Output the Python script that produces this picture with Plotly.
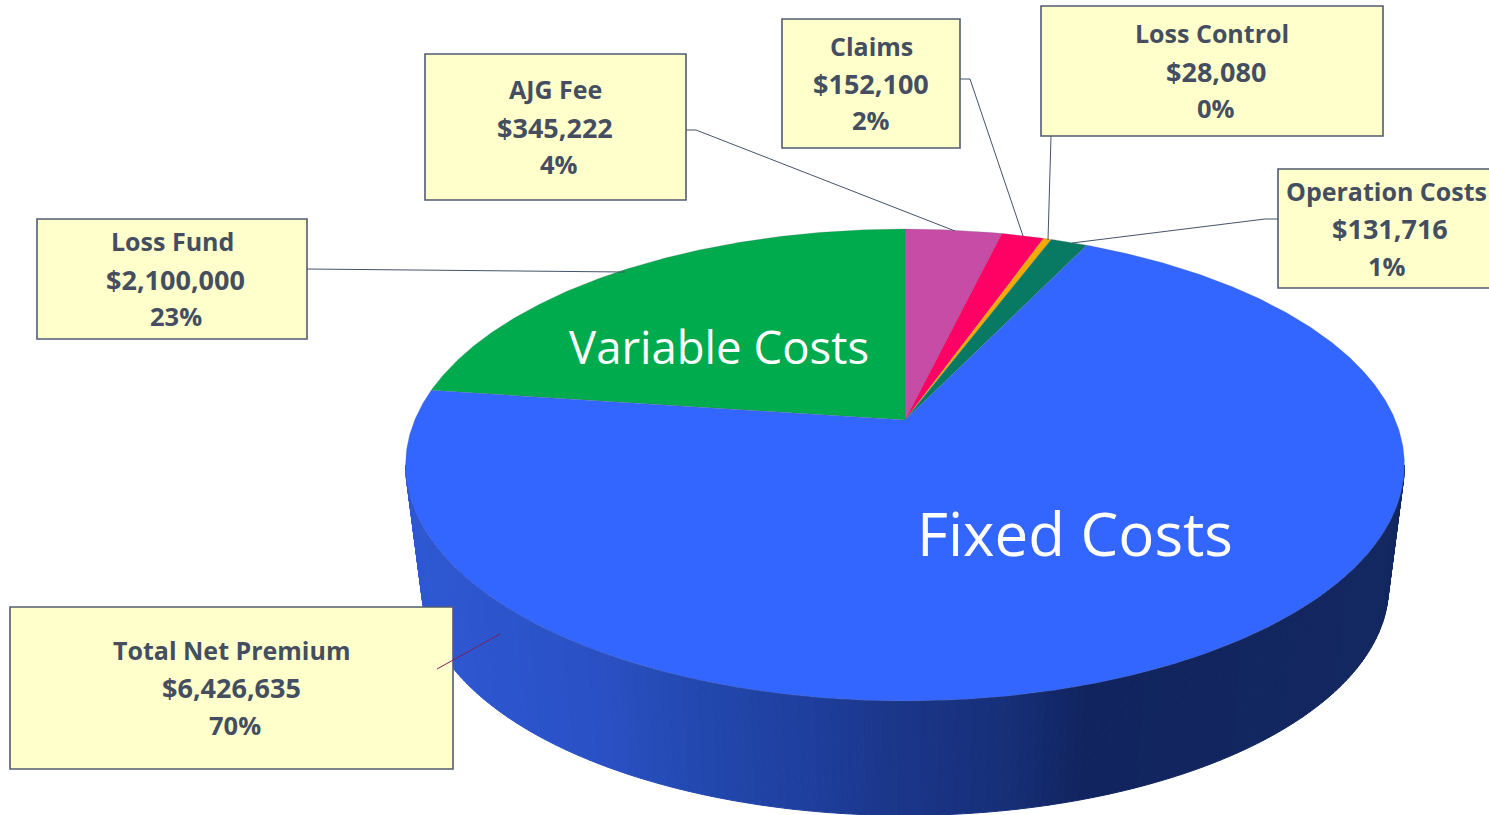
import numpy as np
import plotly.graph_objects as go

# ---- data ----
categories = ["Loss Fund", "AJG Fee", "Claims", "Loss Control", "Operation Costs", "Total Net Premium"]
values = [2100000, 345222, 152100, 28080, 131716, 6426635]
value_labels = ["$2,100,000", "$345,222", "$152,100", "$28,080", "$131,716", "$6,426,635"]
percent_labels = ["23%", "4%", "2%", "0%", "1%", "70%"]
slice_colors = ["#00AB4D", "#C64CA5", "#FF0064", "#F2A900", "#087A63", "#3366FF"]

group_names = ["Variable Costs", "Fixed Costs"]
group_pos = [(718.5, 346), (1075, 533)]
group_sizes = [45.5, 60]

# ---- layout of the callouts (pixel frame) ----
boxes = [(37, 219, 307, 339), (425, 54, 686, 200), (782, 19, 960, 148),
         (1041, 6, 1383, 136), (1278, 169, 1495, 288), (10, 607, 453, 769)]
line_y = [(241, 279, 316), (89, 127, 164), (46, 83, 120),
          (33, 71, 108), (191, 228, 266), (650, 687, 725)]
line_x = [(172, 175, 176), (555, 555, 559), (871, 871, 871),
          (1212, 1216, 1216), (1386, 1390, 1387), (231, 231, 235)]
line_sizes = [25, 27, 25.5]
leaders = [[(307, 269), (625, 272)],
           [(686, 130), (696, 130), (955, 231)],
           [(960, 79), (970, 79), (1023, 236)],
           [(1051, 136), (1048, 240)],
           [(1278, 219), (1265, 219), (1072, 243)],
           [(437, 669), (500, 634)]]

# ---- projection of the pie disc ----
CX, APEX_Y, A, B, K = 905.0, 420.0, 490.3, 227.4, 0.1907
SCALE_BOTTOM, TOP_CY, BOTTOM_CY = 0.968, 465.0, 587.0


def top_rim(theta):
    u, v = np.sin(theta), np.cos(theta)
    d = 1 + K * v
    return CX + A * u / d, APEX_Y - B * v / d


def bottom_rim(theta):
    x, y = top_rim(theta)
    return CX + (x - CX) * SCALE_BOTTOM, BOTTOM_CY + (y - TOP_CY) * SCALE_BOTTOM


total = sum(values)
shares = np.array(values) / total * 2 * np.pi
starts = -shares[0] + np.concatenate([[0], np.cumsum(shares)[:-1]])
ends = starts + shares

side_stops = [(400, (46, 88, 212)), (600, (42, 80, 196)), (700, (34, 72, 174)), (800, (31, 63, 159)),
              (900, (26, 54, 136)), (1000, (23, 48, 122)), (1090, (17, 36, 95)), (1500, (20, 40, 96))]


def side_color(x):
    xs = [s[0] for s in side_stops]
    rgb = [np.interp(x, xs, [s[1][i] for s in side_stops]) for i in range(3)]
    return "rgb(%d,%d,%d)" % tuple(int(round(c)) for c in rgb)


fig = go.Figure()

# side wall: only the part of the largest slice that faces the viewer
tangent = np.arccos(-K)
side_from = max(starts[-1], tangent)
side_to = min(ends[-1], 2 * np.pi - tangent)
edges = np.linspace(side_from, side_to, 201)
for t0, t1 in zip(edges[:-1], edges[1:]):
    ts = np.linspace(t0, t1, 3)
    xt, yt = top_rim(ts)
    xb, yb = bottom_rim(ts)
    xs = np.concatenate([xt, xb[::-1], xt[:1]])
    ys = np.concatenate([yt, yb[::-1], yt[:1]])
    col = side_color(float(xt.mean()))
    fig.add_trace(go.Scatter(x=xs, y=ys, mode="lines", fill="toself", fillcolor=col,
                             line=dict(color=col, width=1), hoverinfo="skip", showlegend=False))

# top face slices
for name, s, e, col in zip(categories, starts, ends, slice_colors):
    ts = np.linspace(s, e, max(8, int((e - s) * 120)))
    xr, yr = top_rim(ts)
    xs = np.concatenate([[CX], xr, [CX]])
    ys = np.concatenate([[APEX_Y], yr, [APEX_Y]])
    fig.add_trace(go.Scatter(x=xs, y=ys, mode="lines", fill="toself", fillcolor=col, name=name,
                             line=dict(color="rgba(90,100,120,0.35)", width=0.6),
                             hoverinfo="name", showlegend=False))

shapes = []
for (x0, y0, x1, y1) in boxes:
    shapes.append(dict(type="rect", x0=x0, y0=y0, x1=x1, y1=y1, fillcolor="#FFFFCC",
                       line=dict(color="#525C70", width=1.6), layer="above"))
for i, pts in enumerate(leaders):
    path = "M " + " L ".join(f"{x},{y}" for x, y in pts)
    col = "#7A1F5C" if i == 5 else "#44546A"
    shapes.append(dict(type="path", path=path, line=dict(color=col, width=1), layer="above"))

annotations = []
for i, name in enumerate(categories):
    texts = (name, value_labels[i], percent_labels[i])
    for t, x, y, sz in zip(texts, line_x[i], line_y[i], line_sizes):
        annotations.append(dict(x=x, y=y, text=t, showarrow=False, xanchor="center", yanchor="middle",
                                font=dict(family="Open Sans", size=sz, color="#444E60", weight=700)))
for name, (x, y), sz in zip(group_names, group_pos, group_sizes):
    annotations.append(dict(x=x, y=y, text=name, showarrow=False, xanchor="center", yanchor="middle",
                            font=dict(family="Open Sans", size=sz, color="#FFFFFF")))

fig.update_layout(
    width=1489, height=815, margin=dict(l=0, r=0, t=0, b=0),
    paper_bgcolor="white", plot_bgcolor="white", showlegend=False,
    xaxis=dict(range=[0, 1489], visible=False, fixedrange=True),
    yaxis=dict(range=[815, 0], visible=False, fixedrange=True),
    shapes=shapes, annotations=annotations,
)
fig.write_html("out.html", config=dict(displayModeBar=False),
               post_script="document.body.style.margin='0';document.documentElement.style.overflow='hidden';")
